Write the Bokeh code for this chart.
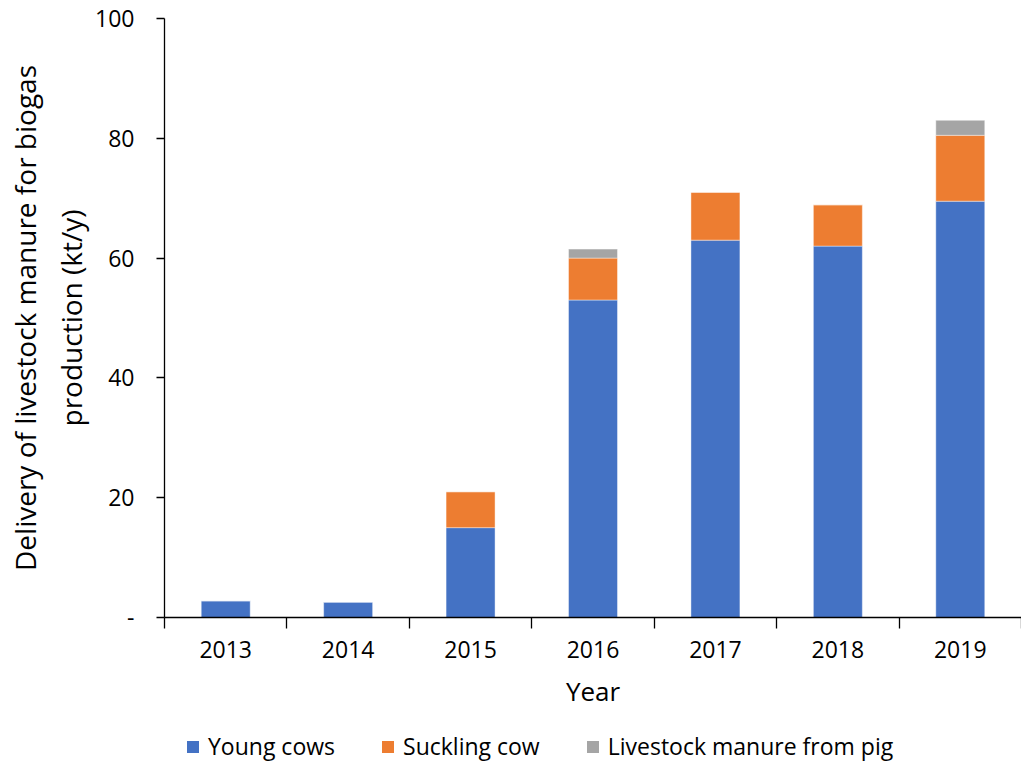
from bokeh.plotting import figure
from bokeh.models import FixedTicker, Range1d, Legend, LegendItem
from bokeh.layouts import column
from bokeh.embed import file_html
from bokeh.resources import INLINE

years = ["2013", "2014", "2015", "2016", "2017", "2018", "2019"]
young_cows = [2.8, 2.6, 15.0, 53.0, 63.0, 62.0, 69.5]
suckling_cow = [0.0, 0.0, 6.0, 7.0, 8.0, 6.9, 11.0]
pig_manure = [0.0, 0.0, 0.0, 1.5, 0.0, 0.0, 2.5]
series_names = ["Young cows", "Suckling cow", "Livestock manure from pig"]
colors = ["#4472C4", "#ED7D31", "#A5A5A5"]
y_ticks = [0, 20, 40, 60, 80, 100]
y_tick_labels = ["-", "20", "40", "60", "80", "100"]

FONT = "Open Sans"

centers = [i + 0.5 for i in range(len(years))]
bounds = [float(i) for i in range(len(years) + 1)]

data = dict(x=centers, young=young_cows, suck=suckling_cow, pig=pig_manure)

p = figure(width=1021, height=720, output_backend="svg", toolbar_location=None,
           x_range=Range1d(0, len(years)), y_range=Range1d(0, 100),
           min_border_left=164, min_border_right=0, min_border_top=18,
           min_border_bottom=103)

rs = p.vbar_stack(["young", "suck", "pig"], x="x", width=0.4, source=data,
                  color=colors, line_color="white", line_width=0.6, line_alpha=0.7)

p.grid.visible = False
p.outline_line_color = None
p.background_fill_color = "white"
p.border_fill_color = "white"

# x axis
xa = p.xaxis[0]
xa.ticker = FixedTicker(ticks=centers, minor_ticks=bounds)
xa.major_label_overrides = {c: y for c, y in zip(centers, years)}
xa.major_tick_line_color = None
xa.major_tick_out = 11
xa.major_tick_in = 0
xa.minor_tick_out = 11
xa.minor_tick_in = 0
xa.minor_tick_line_color = "black"
xa.minor_tick_line_width = 1.3
xa.axis_line_color = "black"
xa.axis_line_width = 1.3
xa.major_label_text_font = FONT
xa.major_label_text_font_size = "23px"
xa.major_label_text_color = "black"
xa.major_label_standoff = 12
xa.axis_label = "Year"
xa.axis_label_text_font = FONT
xa.axis_label_text_font_size = "26px"
xa.axis_label_text_font_style = "normal"
xa.axis_label_text_color = "black"
xa.axis_label_standoff = 12

# y axis
ya = p.yaxis[0]
ya.ticker = FixedTicker(ticks=y_ticks, minor_ticks=[])
ya.major_label_overrides = {t: l for t, l in zip(y_ticks, y_tick_labels)}
ya.major_tick_out = 8
ya.major_tick_in = 0
ya.major_tick_line_color = "black"
ya.major_tick_line_width = 1.3
ya.axis_line_color = "black"
ya.axis_line_width = 1.3
ya.major_label_text_font = FONT
ya.major_label_text_font_size = "23px"
ya.major_label_text_color = "black"
ya.major_label_standoff = 22
ya.axis_label = "Delivery of livestock manure for biogas\nproduction (kt/y)"
ya.axis_label_text_font = FONT
ya.axis_label_text_font_size = "28px"
ya.axis_label_text_line_height = 1.2
ya.axis_label_text_font_style = "normal"
ya.axis_label_text_color = "black"
ya.axis_label_standoff = 2

# legend strip below the chart
lg = figure(width=1021, height=46, output_backend="svg", toolbar_location=None,
            x_range=Range1d(0, 1), y_range=Range1d(0, 1),
            x_axis_location=None, y_axis_location=None,
            min_border_left=164, min_border_right=0, min_border_top=0, min_border_bottom=0)
lg.grid.visible = False
lg.outline_line_color = None
lg.background_fill_color = "white"
lg.border_fill_color = "white"
dummies = [lg.vbar(x=[0.5], top=[-5], bottom=[-5], width=0.1, fill_color=c, line_color=None)
           for c in colors]
legend = Legend(items=[LegendItem(label=n, renderers=[r]) for n, r in zip(series_names, dummies)],
                orientation="horizontal", location=(21, 4),
                label_text_font=FONT, label_text_font_size="23px",
                label_text_color="black",
                glyph_width=15, glyph_height=15, label_standoff=8, spacing=45,
                border_line_color=None, background_fill_alpha=0,
                padding=0, margin=0)
lg.add_layout(legend, "center")

layout = column(p, lg, spacing=0)
open("out.html", "w").write(file_html(layout, INLINE))
